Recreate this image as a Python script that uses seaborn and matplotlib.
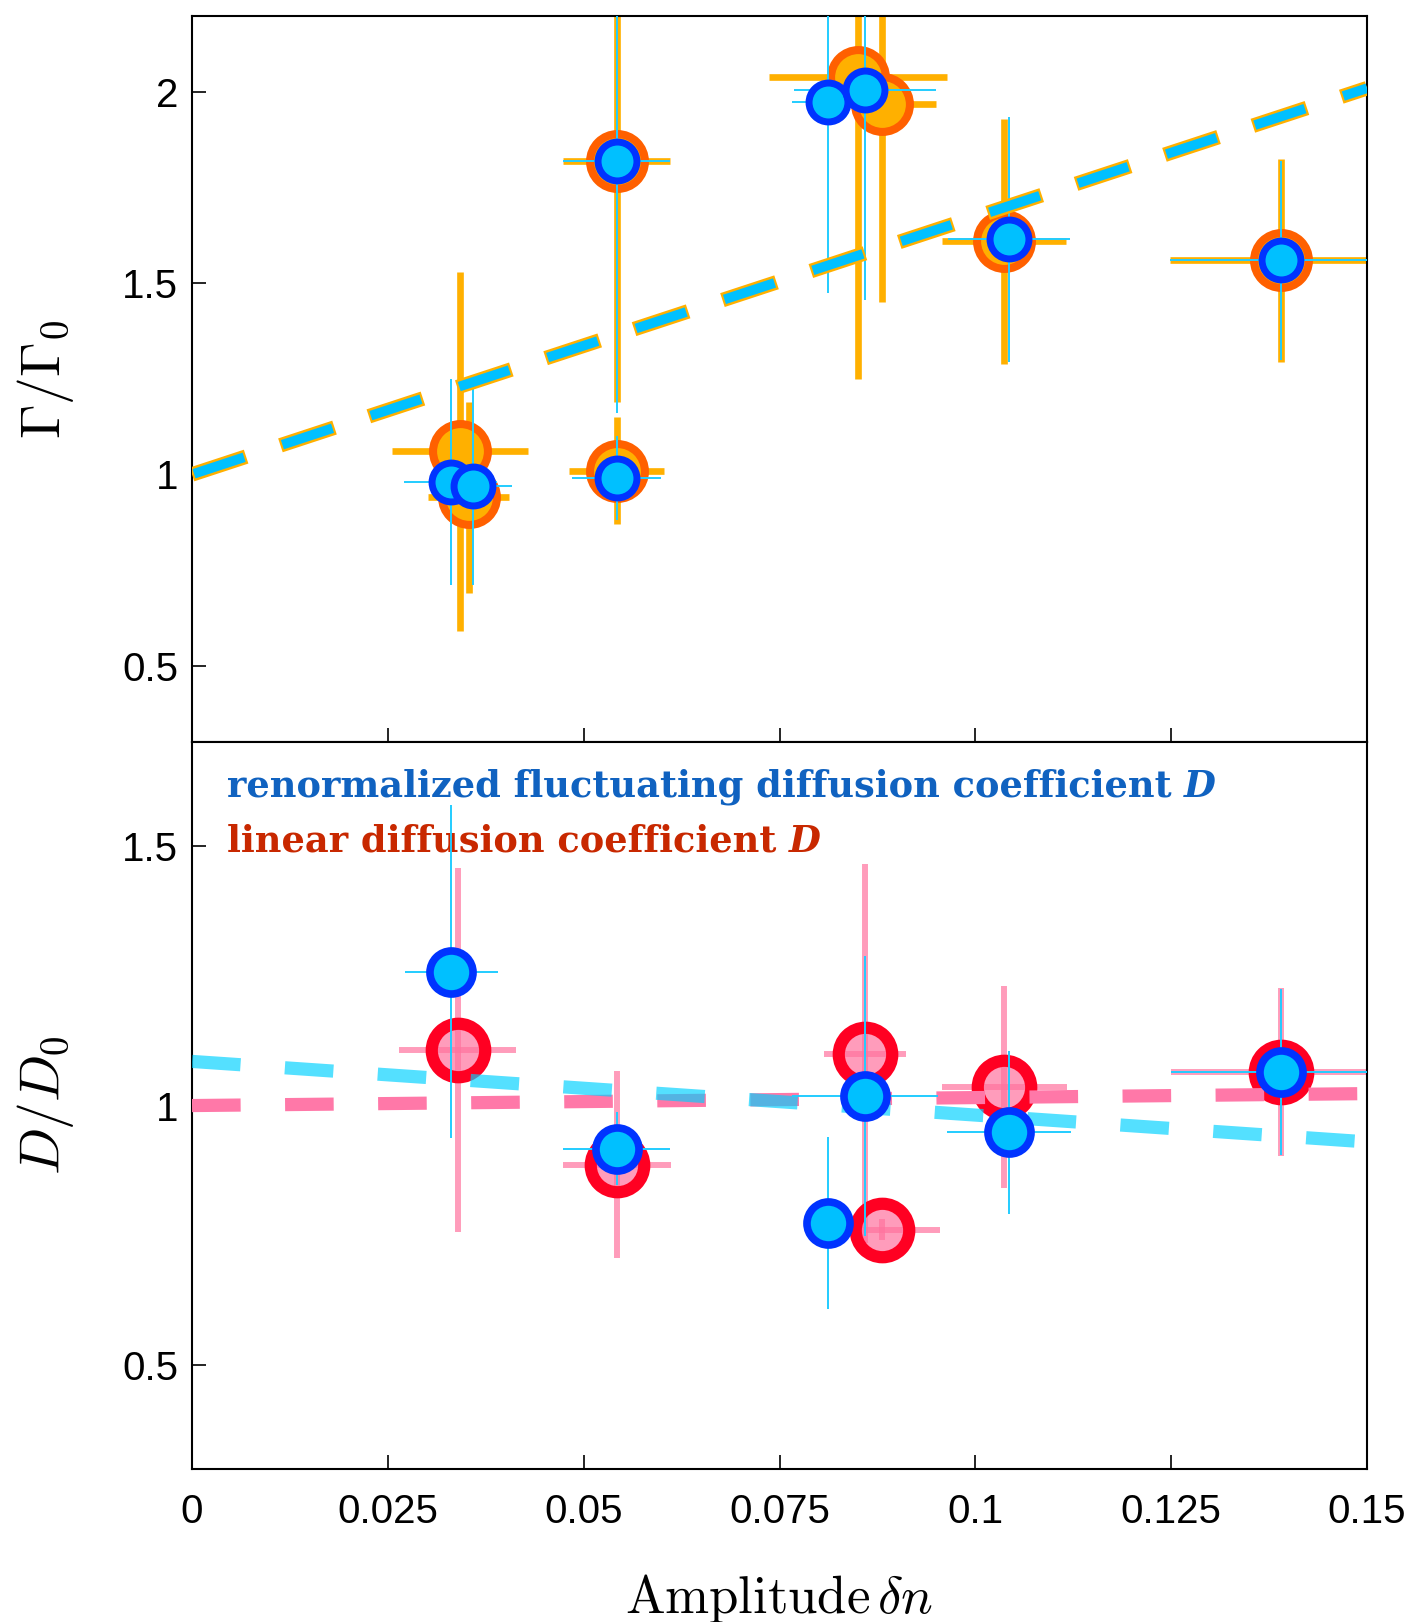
import numpy as np
import pandas as pd
import matplotlib
matplotlib.use("Agg")
import matplotlib.pyplot as plt
import seaborn as sns

# colours
orange = '#ffb000'
orange_edge = '#ff6000'
cyan = '#00c0ff'
blue_edge = '#0033ff'
cyan_bar = '#22ccff'
pink = (1.0, 0.45, 0.62, 0.7)
red_edge = '#ff0022'
text_blue = '#1062c0'
text_red = '#c82800'

# ---- top panel: Gamma / Gamma_0 ----
g_lin_x = [0.0342, 0.0353, 0.0542, 0.0542, 0.0850, 0.0881, 0.1037, 0.1390]
g_lin_y = [1.06, 0.94, 1.82, 1.01, 2.04, 1.97, 1.61, 1.56]
g_lin_xerr = [0.0087, 0.0052, 0.0068, 0.0061, 0.0114, 0.0069, 0.0079, 0.0141]
g_lin_yerr = [0.47, 0.25, 0.63, 0.14, 0.79, 0.52, 0.32, 0.265]

g_ren_x = [0.0330, 0.0359, 0.0542, 0.0542, 0.0812, 0.0859, 0.1043, 0.1390]
g_ren_y = [0.98, 0.97, 1.82, 0.99, 1.975, 2.005, 1.615, 1.56]
g_ren_xerr = [0.0059, 0.0049, 0.0068, 0.0057, 0.0046, 0.0091, 0.0078, 0.0141]
g_ren_yerr = [0.27, 0.26, 0.66, 0.11, 0.50, 0.55, 0.32, 0.26]

# ---- bottom panel: D / D_0 ----
d_lin_x = [0.0339, 0.0542, 0.0859, 0.0881, 0.1037, 0.1390]
d_lin_y = [1.107, 0.886, 1.100, 0.761, 1.036, 1.065]
d_lin_xerr = [0.0075, 0.0069, 0.0052, 0.0074, 0.0080, 0.0140]
d_lin_yerr = [0.35, 0.18, 0.365, 0.02, 0.195, 0.162]

d_ren_x = [0.0331, 0.0542, 0.0812, 0.0859, 0.1043, 0.1390]
d_ren_y = [1.258, 0.917, 0.774, 1.018, 0.949, 1.065]
d_ren_xerr = [0.0059, 0.0068, 0.0025, 0.0093, 0.0079, 0.0140]
d_ren_yerr = [0.32, 0.07, 0.165, 0.27, 0.157, 0.16]

# fitted lines
fit_x = [0.0, 0.15]
gamma_fit = [1.0, 2.01]
d_lin_fit = [1.0, 1.023]
d_ren_fit = [1.085, 0.93]

xticks = [0, 0.025, 0.05, 0.075, 0.1, 0.125, 0.15]
xtick_labels = ['0', '0.025', '0.05', '0.075', '0.1', '0.125', '0.15']

sns.set_style('white')
plt.rcParams['font.family'] = ['Liberation Sans', 'DejaVu Sans']
plt.rcParams['mathtext.fontset'] = 'cm'
plt.rcParams['lines.scale_dashes'] = False
plt.rcParams['text.color'] = 'black'
plt.rcParams['axes.labelcolor'] = 'black'
plt.rcParams['xtick.color'] = 'black'
plt.rcParams['ytick.color'] = 'black'

fig = plt.figure(figsize=(14.14, 16.22), dpi=100)
ax1 = fig.add_axes([0.1358, 0.5425, 0.8310, 0.4479])
ax2 = fig.add_axes([0.1358, 0.0943, 0.8310, 0.4482])

# top panel
ax1.errorbar(g_lin_x, g_lin_y, xerr=g_lin_xerr, yerr=g_lin_yerr, fmt='none',
             ecolor=orange, elinewidth=4.8, capsize=0, zorder=2)
sns.scatterplot(x=g_lin_x, y=g_lin_y, ax=ax1, s=39.5**2, color=orange,
                edgecolor=orange_edge, linewidth=5.8, zorder=3)
ax1.errorbar(g_ren_x, g_ren_y, xerr=g_ren_xerr, yerr=g_ren_yerr, fmt='none',
             ecolor=cyan_bar, elinewidth=1.4, capsize=0, zorder=4)
sns.lineplot(x=fit_x, y=gamma_fit, ax=ax1, color=orange, lw=10.5, errorbar=None, zorder=5)
ax1.lines[-1].set_dashes([41, 26])
sns.lineplot(x=fit_x, y=gamma_fit, ax=ax1, color=cyan, lw=7.0, errorbar=None, zorder=5.1)
ax1.lines[-1].set_linestyle((65.5, (38, 29)))
sns.scatterplot(x=g_ren_x, y=g_ren_y, ax=ax1, s=28**2, color=cyan,
                edgecolor=blue_edge, linewidth=5, zorder=6)

# bottom panel
ax2.errorbar(d_lin_x, d_lin_y, xerr=d_lin_xerr, yerr=d_lin_yerr, fmt='none',
             ecolor=pink, elinewidth=4.3, capsize=0, zorder=2)
sns.scatterplot(x=d_lin_x, y=d_lin_y, ax=ax2, s=38.5**2, color=pink,
                edgecolor=red_edge, linewidth=8.8, zorder=3)
sns.lineplot(x=fit_x, y=d_lin_fit, ax=ax2, color='#ff78a8', lw=9.5, errorbar=None, zorder=4)
ax2.lines[-1].set_dashes([35, 32])
sns.lineplot(x=fit_x, y=d_ren_fit, ax=ax2, color=(0.0, 0.82, 1.0, 0.67), lw=9.5,
             errorbar=None, zorder=4.1)
ax2.lines[-1].set_dashes([35, 32])
ax2.errorbar(d_ren_x, d_ren_y, xerr=d_ren_xerr, yerr=d_ren_yerr, fmt='none',
             ecolor=cyan_bar, elinewidth=1.4, capsize=0, zorder=5)
sns.scatterplot(x=d_ren_x, y=d_ren_y, ax=ax2, s=31**2, color=cyan,
                edgecolor=blue_edge, linewidth=5.5, zorder=6)

# axes styling
for ax in (ax1, ax2):
    ax.set_xlim(0, 0.15)
    ax.set_xticks(xticks)
    for sp in ax.spines.values():
        sp.set_color('black')
        sp.set_linewidth(1.5)
    ax.tick_params(direction='in', length=10, width=1.2, labelsize=29,
                   left=True, bottom=True, top=False, right=False, color='black',
                   labelcolor='black')
    ax.tick_params(axis='y', pad=10)
    ax.tick_params(axis='x', pad=17)

ax1.set_ylim(0.3, 2.2)
ax1.set_yticks([0.5, 1, 1.5, 2])
ax1.set_yticklabels(['0.5', '1', '1.5', '2'])
ax1.set_xticklabels([])

ax2.set_ylim(0.3, 1.7)
ax2.set_yticks([0.5, 1, 1.5])
ax2.set_yticklabels(['0.5', '1', '1.5'])
ax2.set_xticklabels(xtick_labels)

ax1.set_ylabel(r'$\Gamma/\Gamma_0$', fontsize=40)
ax1.yaxis.set_label_coords(-0.099, 0.5)
ax2.set_ylabel(r'$D/D_0$', fontsize=40)
ax2.yaxis.set_label_coords(-0.099, 0.5)
ax2.set_xlabel(r'$\mathrm{Amplitude}\,\delta n$', fontsize=38)
ax2.xaxis.set_label_coords(0.5, -0.141)

# legend text
leg_size = 26.5
t1 = ax2.text(0.0298, 0.9257, 'renormalized fluctuating diffusion coefficient',
              transform=ax2.transAxes, fontsize=leg_size, color=text_blue,
              family='DejaVu Serif', weight='bold', va='baseline', ha='left')
ax2.annotate('D', xy=(1, 0), xycoords=t1, xytext=(9, 0), textcoords='offset points',
             fontsize=leg_size, color=text_blue, family='DejaVu Serif', weight='bold',
             style='italic', va='bottom', ha='left')
t2 = ax2.text(0.0298, 0.849, 'linear diffusion coefficient',
              transform=ax2.transAxes, fontsize=leg_size, color=text_red,
              family='DejaVu Serif', weight='bold', va='baseline', ha='left')
ax2.annotate('D', xy=(1, 0), xycoords=t2, xytext=(9, 0), textcoords='offset points',
             fontsize=leg_size, color=text_red, family='DejaVu Serif', weight='bold',
             style='italic', va='bottom', ha='left')

fig.savefig('out.png', dpi=100)
